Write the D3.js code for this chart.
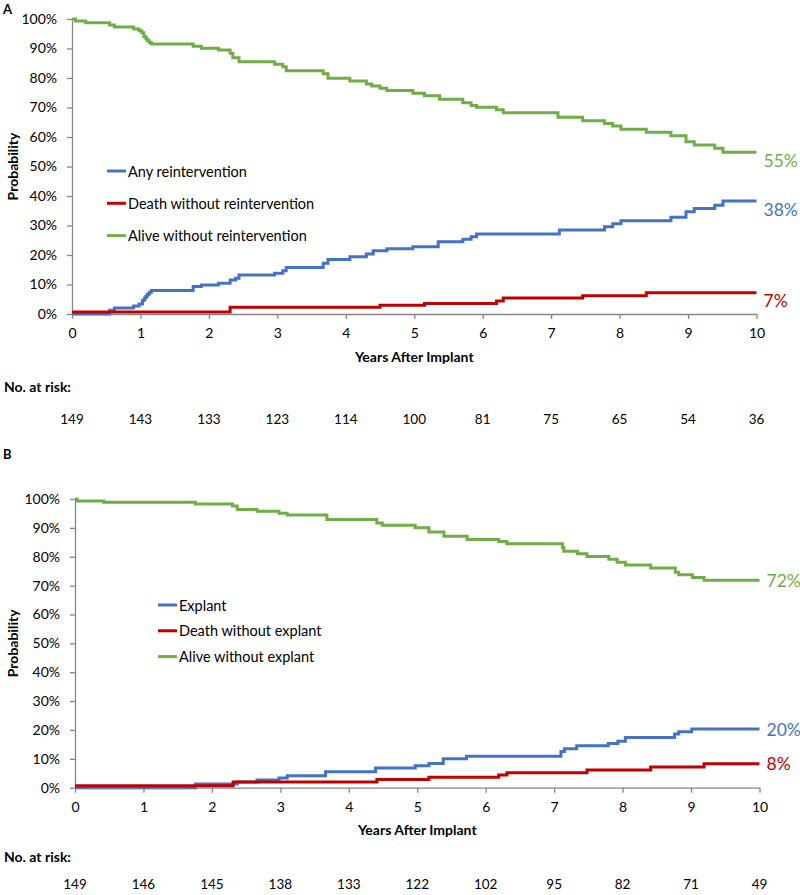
<!DOCTYPE html>
<html>
<head>
<meta charset="utf-8">
<script src="https://cdn.jsdelivr.net/npm/d3@7"></script>
<style>
  html, body { margin: 0; padding: 0; background: #fff; }
  svg { display: block; font-family: Lato, "Open Sans", sans-serif; }
</style>
</head>
<body>
<svg id="chart" width="800" height="895"></svg>
<script>
// ---------- DATA ----------
const yearTicks = [0, 1, 2, 3, 4, 5, 6, 7, 8, 9, 10];
const probTicks = [0, 10, 20, 30, 40, 50, 60, 70, 80, 90, 100];

// Panel A (reintervention) – [years, percent]
const aAnyReintervention = [[0,0],[0.55,1.3],[0.62,2.0],[0.90,2.7],[0.98,3.4],[1.03,4.7],[1.06,5.4],[1.08,6.0],[1.10,6.7],[1.13,7.4],[1.16,8.0],[1.77,9.3],[1.89,9.8],[2.14,10.4],[2.31,11.5],[2.39,12.1],[2.44,13.2],[2.96,13.8],[3.08,14.7],[3.13,15.8],[3.67,17.2],[3.74,18.5],[4.06,19.4],[4.30,20.3],[4.40,21.4],[4.60,22.1],[4.98,22.8],[5.35,24.5],[5.71,25.3],[5.83,26.2],[5.91,27.1],[7.12,28.5],[7.78,29.6],[7.90,30.6],[8.02,31.6],[8.75,32.8],[8.97,34.7],[9.09,35.8],[9.39,36.9],[9.51,38.3],[10,38.3]];
const aDeathWithoutReint = [[0,0.7],[2.31,2.3],[4.50,3.0],[5.15,3.6],[6.20,4.4],[6.30,5.4],[7.46,6.2],[8.39,7.2],[10,7.2]];
const aAliveWithoutReint = [[0,100],[0.05,99.3],[0.20,98.7],[0.55,98.0],[0.62,97.3],[0.90,96.6],[0.98,96.0],[1.02,95.3],[1.05,94.0],[1.08,93.3],[1.10,92.6],[1.13,92.0],[1.16,91.5],[1.77,90.8],[1.89,90.1],[2.14,89.5],[2.31,88.4],[2.35,86.9],[2.44,85.5],[2.96,84.7],[3.08,83.8],[3.13,82.5],[3.67,81.4],[3.74,79.9],[4.06,79.0],[4.30,78.0],[4.38,77.3],[4.50,76.5],[4.60,75.8],[4.98,74.8],[5.15,74.0],[5.37,72.8],[5.71,71.6],[5.83,70.7],[5.91,70.1],[6.20,69.2],[6.30,68.2],[7.10,66.7],[7.46,65.5],[7.78,64.6],[7.90,63.7],[8.02,62.6],[8.39,61.6],[8.75,60.4],[8.97,58.4],[9.09,57.3],[9.39,56.2],[9.51,54.8],[10,54.8]];
const aLegend = ["Any reintervention", "Death without reintervention", "Alive without reintervention"];
const aEndLabels = ["38%", "7%", "55%"];
const aAtRisk = [149, 143, 133, 123, 114, 100, 81, 75, 65, 54, 36];

// Panel B (explant) – [years, percent]
const bExplant = [[0,0],[1.76,1.3],[2.37,2.0],[2.66,2.7],[2.98,3.4],[3.10,4.1],[3.66,5.5],[4.39,6.8],[4.97,7.6],[5.17,8.4],[5.38,10.0],[5.72,10.9],[7.10,12.5],[7.15,13.5],[7.33,14.5],[7.79,15.3],[7.93,16.1],[8.04,17.4],[8.76,18.6],[8.82,19.4],[9.01,20.3],[10,20.3]];
const bDeathWithoutExplant = [[0,0.7],[2.31,2.0],[4.41,2.8],[5.17,3.6],[6.19,4.4],[6.31,5.2],[7.48,6.1],[8.41,7.2],[9.19,8.3],[10,8.3]];
const bAliveWithoutExplant = [[0,100],[0.03,99.3],[0.42,98.9],[1.76,98.3],[2.30,97.6],[2.37,96.4],[2.66,95.8],[2.98,95.1],[3.10,94.5],[3.68,92.9],[4.41,91.7],[4.49,90.9],[4.97,90.0],[5.17,88.6],[5.39,87.1],[5.73,86.0],[6.19,85.3],[6.31,84.5],[7.12,83.3],[7.14,81.9],[7.34,81.0],[7.48,80.1],[7.80,79.1],[7.92,78.1],[8.04,77.1],[8.41,76.1],[8.77,74.6],[8.82,73.8],[9.02,72.8],[9.19,71.9],[10,71.9]];
const bLegend = ["Explant", "Death without explant", "Alive without explant"];
const bEndLabels = ["20%", "8%", "72%"];
const bAtRisk = [149, 146, 145, 138, 133, 122, 102, 95, 82, 71, 49];

const seriesColors = ["#4472C4", "#C00000", "#70AD47"];

// ---------- DRAW ----------
const svg = d3.select("#chart");
const axisColor = "#868686";

function drawPanel(cfg) {
  const g = svg.append("g");
  const x = d3.scaleLinear().domain([0, 10]).range([cfg.x0, cfg.x1]);
  const y = d3.scaleLinear().domain([0, 100]).range([cfg.yBottom, cfg.yTop]);

  // panel letter
  g.append("text").attr("x", 3).attr("y", cfg.letterY)
    .attr("dominant-baseline", "central")
    .attr("font-size", 13).attr("font-weight", "bold").text(cfg.letter);

  // y axis
  const yAxis = g.append("g").attr("transform", `translate(${cfg.x0},0)`)
    .call(d3.axisLeft(y).tickValues(probTicks).tickFormat(d => d + "%")
      .tickSize(5).tickSizeOuter(0).tickPadding(10));
  yAxis.select(".domain").attr("stroke", axisColor).attr("stroke-width", 1.3);
  yAxis.selectAll(".tick line").attr("stroke", axisColor).attr("stroke-width", 1.3);
  yAxis.selectAll(".tick text").attr("font-size", 14).attr("fill", "#000")
    .attr("font-family", "Lato, sans-serif");

  // x axis
  const xAxis = g.append("g").attr("transform", `translate(0,${cfg.yBottom})`)
    .call(d3.axisBottom(x).tickValues(yearTicks).tickFormat(d3.format("d"))
      .tickSize(5).tickSizeOuter(0).tickPadding(9));
  xAxis.select(".domain").attr("stroke", axisColor).attr("stroke-width", 1.3);
  xAxis.selectAll(".tick line").attr("stroke", axisColor).attr("stroke-width", 1.3);
  xAxis.selectAll(".tick text").attr("font-size", 14).attr("fill", "#000")
    .attr("font-family", "Lato, sans-serif");

  // axis titles
  g.append("text")
    .attr("transform", `translate(12,${(cfg.yTop + cfg.yBottom) / 2}) rotate(-90)`)
    .attr("text-anchor", "middle").attr("dominant-baseline", "central")
    .attr("font-size", 14).attr("font-weight", "bold").text("Probability");
  g.append("text").attr("x", (cfg.x0 + cfg.x1) / 2).attr("y", cfg.yBottom + 42)
    .attr("text-anchor", "middle").attr("dominant-baseline", "central")
    .attr("font-size", 14).attr("font-weight", "bold").text("Years After Implant");

  // curves: draw green, blue, red (red on top)
  const line = d3.line().x(d => x(d[0])).y(d => y(d[1])).curve(d3.curveStepAfter);
  [2, 0, 1].forEach(i => {
    g.append("path").datum(cfg.series[i])
      .attr("fill", "none").attr("stroke", seriesColors[i])
      .attr("stroke-width", 3).attr("stroke-linejoin", "miter")
      .attr("d", line);
  });

  // end labels
  cfg.series.forEach((s, i) => {
    const last = s[s.length - 1];
    g.append("text").attr("x", x(last[0]) + 7).attr("y", y(last[1]) + cfg.labelDy)
      .attr("dominant-baseline", "central").attr("font-size", 17.5)
      .attr("fill", seriesColors[i]).text(cfg.endLabels[i]);
  });

  // legend
  cfg.legend.forEach((name, i) => {
    const ly = cfg.legendY + i * cfg.legendStep;
    g.append("line").attr("x1", cfg.legendX).attr("x2", cfg.legendX + 19)
      .attr("y1", ly).attr("y2", ly)
      .attr("stroke", seriesColors[i]).attr("stroke-width", 3);
    g.append("text").attr("x", cfg.legendX + 21).attr("y", ly)
      .attr("dominant-baseline", "central").attr("font-size", 14.5)
      .attr("fill", "#000").text(name);
  });

  // numbers at risk
  g.append("text").attr("x", 4).attr("y", cfg.riskTitleY)
    .attr("dominant-baseline", "central")
    .attr("font-size", 14).attr("font-weight", "bold").text("No. at risk:");
  g.selectAll(".risk").data(cfg.atRisk).enter().append("text")
    .attr("x", (d, i) => x(yearTicks[i])).attr("y", cfg.riskY)
    .attr("text-anchor", "middle").attr("dominant-baseline", "central")
    .attr("font-size", 13.5).attr("fill", "#000").text(d => d);
}

drawPanel({
  letter: "A", letterY: 9,
  x0: 72, x1: 756.5, yTop: 19, yBottom: 314,
  series: [aAnyReintervention, aDeathWithoutReint, aAliveWithoutReint],
  endLabels: aEndLabels, labelDy: 8,
  legend: aLegend, legendX: 107, legendY: 171, legendStep: 32.3,
  riskTitleY: 386, atRisk: aAtRisk, riskY: 419
});

drawPanel({
  letter: "B", letterY: 454,
  x0: 75, x1: 759.5, yTop: 499, yBottom: 787.7,
  series: [bExplant, bDeathWithoutExplant, bAliveWithoutExplant],
  endLabels: bEndLabels, labelDy: 0,
  legend: bLegend, legendX: 158, legendY: 605, legendStep: 25.8,
  riskTitleY: 856, atRisk: bAtRisk, riskY: 884
});
</script>
</body>
</html>
